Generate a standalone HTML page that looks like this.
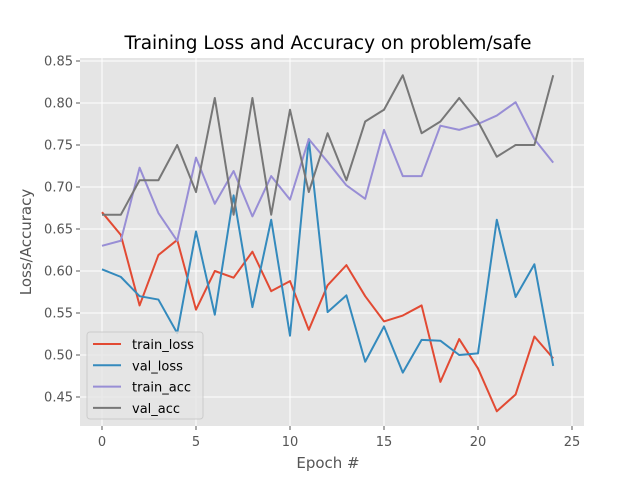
<!DOCTYPE html>
<html><head><meta charset="utf-8"><style>
body{margin:0;background:#fff;font-family:"DejaVu Sans","Liberation Sans",sans-serif;}
svg text{font-family:"DejaVu Sans","Liberation Sans",sans-serif;}
</style></head><body>
<svg id="chart" width="640" height="480" xmlns="http://www.w3.org/2000/svg">
<rect width="640" height="480" fill="#fff"/>
<rect x="80" y="58" width="504" height="368" fill="#e5e5e5"/>
<g id="grid"></g><g id="ticks"></g><g id="lines"></g>
<text x="328" y="49" font-size="18.5" text-anchor="middle" fill="#000">Training Loss and Accuracy on problem/safe</text>
<text x="328" y="468" font-size="15" text-anchor="middle" fill="#555">Epoch #</text>
<text x="0" y="0" font-size="15" text-anchor="middle" fill="#555" transform="translate(31,242) rotate(-90)">Loss/Accuracy</text>
<g id="legend"></g>
</svg>
<script>
const epochs=[0,1,2,3,4,5,6,7,8,9,10,11,12,13,14,15,16,17,18,19,20,21,22,23,24];
const trainLoss=[0.670,0.643,0.559,0.619,0.637,0.554,0.600,0.592,0.623,0.576,0.588,0.530,0.583,0.607,0.570,0.540,0.547,0.559,0.468,0.519,0.484,0.433,0.453,0.522,0.496];
const valLoss=[0.602,0.593,0.570,0.566,0.526,0.647,0.548,0.690,0.557,0.661,0.523,0.757,0.551,0.571,0.492,0.534,0.479,0.518,0.517,0.500,0.502,0.661,0.569,0.608,0.487];
const trainAcc=[0.630,0.636,0.723,0.669,0.636,0.735,0.680,0.719,0.665,0.713,0.685,0.757,0.730,0.702,0.686,0.768,0.713,0.713,0.773,0.768,0.775,0.785,0.801,0.757,0.729];
const valAcc=[0.667,0.667,0.708,0.708,0.750,0.694,0.806,0.667,0.806,0.667,0.792,0.694,0.764,0.708,0.778,0.792,0.833,0.764,0.778,0.806,0.778,0.736,0.750,0.750,0.833];
const xTicks=[0,5,10,15,20,25];
const yTicks=[0.45,0.50,0.55,0.60,0.65,0.70,0.75,0.80,0.85];
const seriesNames=["train_loss","val_loss","train_acc","val_acc"];
const NS="http://www.w3.org/2000/svg";
const X=v=>102+v*18.8;
const Y=v=>61+(0.85-v)*840;
function mk(tag,attrs,parent){const e=document.createElementNS(NS,tag);for(const k in attrs)e.setAttribute(k,attrs[k]);parent.appendChild(e);return e;}
const grid=document.getElementById('grid'),ticks=document.getElementById('ticks'),lines=document.getElementById('lines'),legend=document.getElementById('legend');
xTicks.forEach(t=>{
  const g=mk('line',{x1:X(t),x2:X(t),y1:58,y2:426,stroke:'#fff','stroke-width':1},grid);
  
  
  mk('line',{x1:X(t),x2:X(t),y1:426,y2:430,stroke:'#555'},ticks);
  const tx=mk('text',{x:X(t),y:446,'font-size':13,'text-anchor':'middle',fill:'#555'},ticks);
  tx.textContent=t;
  
  
});
yTicks.forEach(t=>{
  const g=mk('line',{x1:80,x2:584,y1:Y(t),y2:Y(t),stroke:'#fff','stroke-width':1},grid);
  
  
  mk('line',{x1:76,x2:80,y1:Y(t),y2:Y(t),stroke:'#555'},ticks);
  const tx=mk('text',{x:73,y:Y(t)+4.5,'font-size':13,'text-anchor':'end',fill:'#555'},ticks);
  tx.textContent=t.toFixed(2);
  
  
});
const data=[trainLoss,valLoss,trainAcc,valAcc];
const colors=['#E24A33','#348ABD','#988ED5','#777777'];
data.forEach((arr,i)=>{
  const p=mk('polyline',{points:arr.map((v,j)=>X(epochs[j])+','+Y(v)).join(' '),fill:'none',stroke:colors[i],'stroke-width':2,'stroke-linejoin':'round'},lines);
  
  
});
mk('rect',{x:87,y:332,width:116,height:87,rx:3,fill:'#e5e5e5',stroke:'#ccc','fill-opacity':0.8},legend);
seriesNames.forEach((n,i)=>{
  const y=344+i*21.3;
  const l=mk('line',{x1:93,x2:121,y1:y,y2:y,stroke:colors[i],'stroke-width':2},legend);
  
  
  const t=mk('text',{x:132,y:y+5,'font-size':13,fill:'#000'},legend);
  t.textContent=n;
  
  
});
</script>
</body></html>
